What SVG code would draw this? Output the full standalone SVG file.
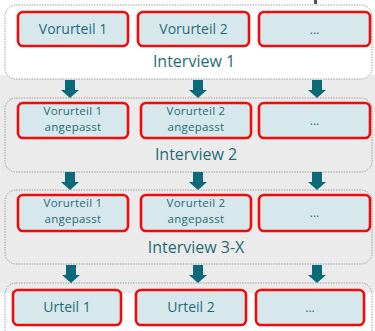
<svg xmlns="http://www.w3.org/2000/svg" width="375" height="331" viewBox="0 0 375 331">
  <defs>
    <style>
      .group { fill: none; stroke: #9a9a9a; stroke-width: 1; stroke-dasharray: 1.4 1.2; }
      .box { fill: #d7e8ec; stroke: #f00a0a; stroke-width: 2.6; }
      .txt { font-family: "Open Sans", "Noto Sans", sans-serif; fill: #1f6c79; text-anchor: middle; }
      .t13 { font-size: 14px; }
      .t11 { font-size: 11.5px; letter-spacing: 0.25px; }
      .dots { font-size: 12px; }
      .lbl { font-size: 16px; }
      .arrow { fill: #0b6a7a; }
    </style>
    <path id="arr" d="M-5,0 H5 V10 H9 L0,18 L-9,10 H-5 Z"/>
  </defs>

  <!-- page background -->
  <rect x="0" y="0" width="375" height="331" fill="#ffffff"/>
  <rect x="0" y="75" width="375" height="218" fill="#ebebeb"/>
  <rect x="314" y="0" width="3" height="4" fill="#555555"/>

  <!-- stage 1 -->
  <g id="interview1">
    <rect x="5" y="5" width="367" height="74" rx="11" fill="#ffffff" stroke="#9a9a9a" stroke-width="1" stroke-dasharray="1.4 1.2"/>
    <text class="txt lbl" x="194" y="67">Interview 1</text>
  </g>
  <g id="vorurteil1">
    <rect class="box" x="18" y="12" width="110" height="34" rx="5"/>
    <text class="txt t13" x="73" y="34">Vorurteil 1</text>
  </g>
  <g id="vorurteil2">
    <rect class="box" x="138" y="12" width="111" height="34" rx="5"/>
    <text class="txt t13" x="193.5" y="34">Vorurteil 2</text>
  </g>
  <g id="vorurteil-more">
    <rect class="box" x="259" y="12" width="111" height="34" rx="5"/>
    <text class="txt dots" x="314.5" y="34">...</text>
  </g>

  <!-- stage 2 -->
  <g id="interview2">
    <rect class="group" x="5" y="98" width="367" height="74" rx="11"/>
    <text class="txt lbl" x="196" y="160">Interview 2</text>
  </g>
  <g id="angepasst1-2">
    <rect class="box" x="18" y="103" width="110" height="35" rx="5"/>
    <text class="txt t11" x="73" y="115">Vorurteil 1</text>
    <text class="txt t11" x="73" y="131">angepasst</text>
  </g>
  <g id="angepasst2-2">
    <rect class="box" x="141" y="103" width="110" height="35" rx="5"/>
    <text class="txt t11" x="196" y="115">Vorurteil 2</text>
    <text class="txt t11" x="196" y="131">angepasst</text>
  </g>
  <g id="angepasst-more-2">
    <rect class="box" x="259" y="103" width="111" height="35" rx="5"/>
    <text class="txt dots" x="314.5" y="125">...</text>
  </g>

  <!-- stage 3 -->
  <g id="interview3x">
    <rect class="group" x="5" y="190" width="367" height="74" rx="11"/>
    <text class="txt lbl" x="196" y="253">Interview 3-X</text>
  </g>
  <g id="angepasst1-3">
    <rect class="box" x="18" y="195" width="110" height="36" rx="5"/>
    <text class="txt t11" x="73" y="207">Vorurteil 1</text>
    <text class="txt t11" x="73" y="223">angepasst</text>
  </g>
  <g id="angepasst2-3">
    <rect class="box" x="141" y="195" width="110" height="36" rx="5"/>
    <text class="txt t11" x="196" y="207">Vorurteil 2</text>
    <text class="txt t11" x="196" y="223">angepasst</text>
  </g>
  <g id="angepasst-more-3">
    <rect class="box" x="259" y="195" width="111" height="36" rx="5"/>
    <text class="txt dots" x="314.5" y="217">...</text>
  </g>

  <!-- final judgements -->
  <g id="urteile">
    <rect class="group" x="5" y="283" width="367" height="70" rx="11"/>
  </g>
  <g id="urteil1">
    <rect class="box" x="13" y="290" width="108" height="35" rx="5"/>
    <text class="txt t13" x="67" y="312">Urteil 1</text>
  </g>
  <g id="urteil2">
    <rect class="box" x="136" y="290" width="110" height="35" rx="5"/>
    <text class="txt t13" x="191" y="312">Urteil 2</text>
  </g>
  <g id="urteil-more">
    <rect class="box" x="256" y="290" width="108" height="35" rx="5"/>
    <text class="txt dots" x="310" y="312">...</text>
  </g>

  <!-- connectors -->
  <g id="connectors" class="arrow">
    <use href="#arr" x="70" y="80"/>
    <use href="#arr" x="198" y="80"/>
    <use href="#arr" x="317" y="80"/>
    <use href="#arr" x="70" y="172"/>
    <use href="#arr" x="198" y="172"/>
    <use href="#arr" x="317" y="172"/>
    <use href="#arr" x="71" y="265"/>
    <use href="#arr" x="198" y="265"/>
    <use href="#arr" x="317" y="265"/>
  </g>
</svg>
